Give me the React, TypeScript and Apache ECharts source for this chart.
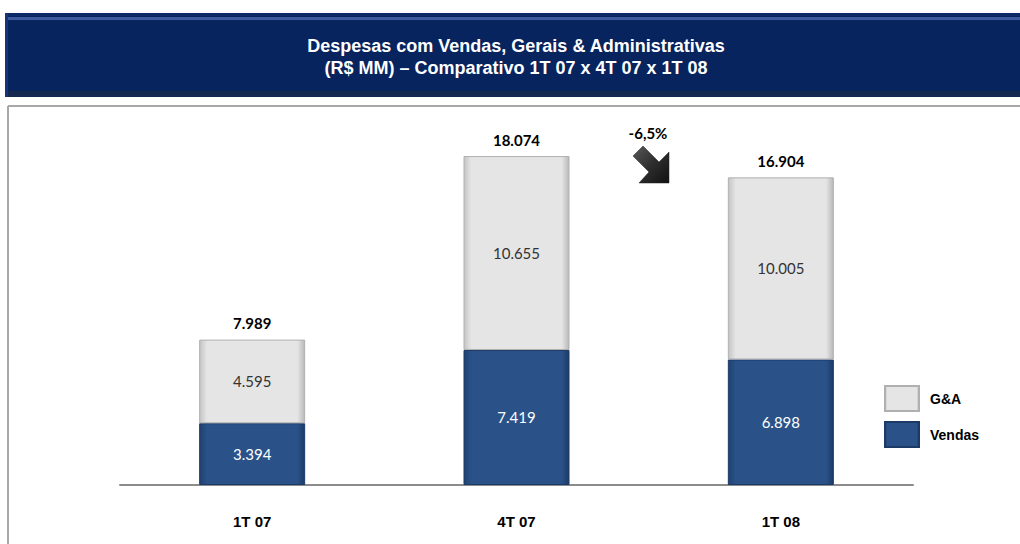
import React, { useEffect, useRef } from "react";
import * as echarts from "echarts";

const categories = ["1T 07", "4T 07", "1T 08"];
const vendas = [3394, 7419, 6898];
const ga = [4595, 10655, 10005];
const totals = [7989, 18074, 16904];
const titleLines = [
  "Despesas com Vendas, Gerais & Administrativas",
  "(R$ MM) \u2013 Comparativo 1T 07 x 4T 07 x 1T 08",
];
const changeLabel = "-6,5%";

const fmt = (v: number) => {
  const s = Math.round(v).toString();
  return s.replace(/\B(?=(\d{3})+(?!\d))/g, ".");
};

export default function App() {
  const ref = useRef<HTMLDivElement>(null);
  useEffect(() => {
    if (!ref.current) return;
    const chart = echarts.init(ref.current, null, { renderer: "svg" });
    const grayFill = new echarts.graphic.LinearGradient(0, 0, 1, 0, [
      { offset: 0, color: "#c4c4c4" },
      { offset: 0.07, color: "#e5e5e5" },
      { offset: 0.93, color: "#e5e5e5" },
      { offset: 1, color: "#b8b8b8" },
    ]);
    const blueFill = new echarts.graphic.LinearGradient(0, 0, 1, 0, [
      { offset: 0, color: "#1f416f" },
      { offset: 0.07, color: "#2a5288" },
      { offset: 0.93, color: "#2a5288" },
      { offset: 1, color: "#1c3a66" },
    ]);
    const arrowFill = new echarts.graphic.LinearGradient(0, 0, 1, 1, [
      { offset: 0, color: "#5a5a5a" },
      { offset: 0.5, color: "#2e2e2e" },
      { offset: 1, color: "#111" },
    ]);
    chart.setOption({
      animation: false,
      grid: { left: 120, right: 107, top: 121, bottom: 59 },
      legend: {
        data: ["G&A", "Vendas"],
        orient: "vertical",
        left: 879,
        top: 380,
        itemWidth: 34,
        itemHeight: 25,
        itemGap: 9,
        icon: "rect",
        textStyle: {
          fontFamily: "Liberation Sans, Arial, sans-serif",
          fontWeight: "bold",
          fontSize: 14,
          color: "#000",
          padding: [0, 0, 0, 6],
        },
      },
      xAxis: {
        type: "category",
        data: categories,
        axisLine: { lineStyle: { color: "#8c8c8c", width: 2 } },
        axisTick: { show: false },
        axisLabel: {
          margin: 29,
          fontFamily: "Liberation Sans Narrow, Arial Narrow, Liberation Sans, sans-serif",
          fontWeight: "bold",
          fontSize: 15,
          color: "#000",
        },
      },
      yAxis: {
        type: "value",
        min: 0,
        max: 20000,
        show: false,
        splitLine: { show: false },
      },
      series: [
        {
          name: "Vendas",
          type: "bar",
          stack: "t",
          barWidth: 106,
          data: vendas,
          itemStyle: { color: blueFill, borderColor: "#1b3a68", borderWidth: 1 },
          label: {
            show: true,
            position: "inside",
            formatter: (p: any) => fmt(p.value),
            color: "#fff",
            fontFamily: "Lato, Open Sans, sans-serif",
            fontSize: 15,
          },
        },
        {
          name: "G&A",
          type: "bar",
          stack: "t",
          barWidth: 106,
          data: ga,
          itemStyle: { color: grayFill, borderColor: "#b0b0b0", borderWidth: 1 },
          label: {
            show: true,
            position: "inside",
            formatter: (p: any) => fmt(p.value),
            color: "#333",
            fontFamily: "Lato, Open Sans, sans-serif",
            fontSize: 15,
          },
        },
        {
          name: "Total",
          type: "bar",
          stack: "t",
          barWidth: 106,
          data: totals.map(() => 0),
          itemStyle: { color: "transparent" },
          label: {
            show: true,
            position: "top",
            distance: 9,
            formatter: (p: any) => fmt(totals[p.dataIndex]),
            color: "#000",
            fontFamily: "Lato, Open Sans, sans-serif",
            fontWeight: "bold",
            fontSize: 15,
          },
        },
      ],
      graphic: [
        {
          type: "rect",
          shape: { x: 5, y: 13, width: 1015, height: 84 },
          style: { fill: "#07245f" },
          z: 1,
        },
        {
          type: "rect",
          shape: { x: 5, y: 13, width: 1015, height: 3 },
          style: { fill: "#0c2a66" },
          z: 2,
        },
        {
          type: "rect",
          shape: { x: 8, y: 17, width: 1012, height: 3 },
          style: { fill: "#3d5c9e" },
          z: 2,
        },
        {
          type: "rect",
          shape: { x: 5, y: 91, width: 1015, height: 6 },
          style: { fill: "#16284f" },
          z: 2,
        },
        {
          type: "rect",
          shape: { x: 5, y: 13, width: 3, height: 84 },
          style: { fill: "#18337a" },
          z: 2,
        },
        {
          type: "text",
          x: 516,
          y: 46,
          style: {
            text: titleLines[0],
            fill: "#fff",
            font: "bold 18px 'Liberation Sans', Arial, sans-serif",
            align: "center",
            verticalAlign: "middle",
          },
          z: 3,
        },
        {
          type: "text",
          x: 516,
          y: 68,
          style: {
            text: titleLines[1],
            fill: "#fff",
            font: "bold 18px 'Liberation Sans', Arial, sans-serif",
            align: "center",
            verticalAlign: "middle",
          },
          z: 3,
        },
        {
          type: "line",
          shape: { x1: 8, y1: 106, x2: 1020, y2: 106 },
          style: { stroke: "#a8a8a8", lineWidth: 2 },
        },
        {
          type: "line",
          shape: { x1: 8, y1: 106, x2: 8, y2: 544 },
          style: { stroke: "#a8a8a8", lineWidth: 2 },
        },
        {
          type: "text",
          x: 648,
          y: 133,
          style: {
            text: changeLabel,
            fill: "#000",
            font: "bold 15px Lato, 'Open Sans', sans-serif",
            align: "center",
            verticalAlign: "middle",
          },
        },
        {
          type: "polygon",
          shape: {
            points: [
              [669, 183],
              [669, 152],
              [659, 162],
              [643, 146],
              [633, 156],
              [649, 172],
              [639, 183],
            ],
          },
          style: { fill: arrowFill, stroke: "#222", lineWidth: 0.5 },
        },
      ],
    });
    return () => chart.dispose();
  }, []);
  return <div ref={ref} style={{ width: 1020, height: 544, position: "absolute", left: 0, top: 0 }} />;
}
